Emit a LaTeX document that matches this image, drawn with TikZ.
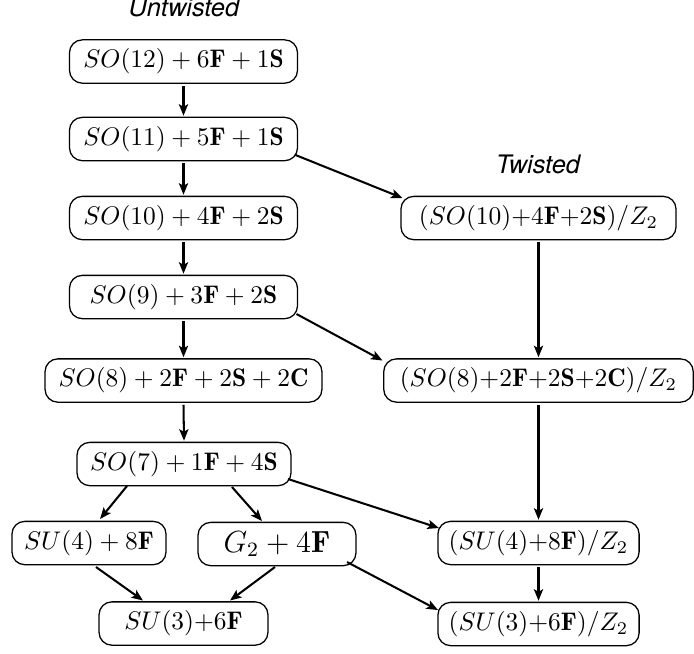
\documentclass[tikz,border=0pt]{standalone}
\usepackage{fontspec}
\newfontfamily\labfont{TeX Gyre Heros}
\usetikzlibrary{arrows.meta,calc}
\begin{document}
\begin{tikzpicture}[x=0.3926pt,y=-0.3926pt,
  box/.style={draw,rounded corners=5pt,minimum height=17pt,line width=0.5pt,inner sep=0pt},
  arr/.style={-{Stealth[length=4.5pt,width=3.6pt,inset=1pt]},line width=0.8pt},
  lab/.style={anchor=base,font=\labfont\itshape}]
\useasboundingbox (0,0) rectangle (694,653);
% labels
\node[lab] (ut) at (184,16) {Untwisted};
\node[lab] (tw) at (538,173) {Twisted};
% untwisted column
\node[box,minimum width=89.5pt] (so12) at (183.5,61.5) {$SO(12)+6\mathbf{F}+1\mathbf{S}$};
\node[box,minimum width=89.5pt] (so11) at (183.5,139) {$SO(11)+5\mathbf{F}+1\mathbf{S}$};
\node[box,minimum width=89.5pt] (so10) at (183.5,218) {$SO(10)+4\mathbf{F}+2\mathbf{S}$};
\node[box,minimum width=89.5pt] (so9) at (183.5,297) {$SO(9)+3\mathbf{F}+2\mathbf{S}$};
\node[box,minimum width=108.7pt] (so8) at (183.5,380.5) {$SO(8)+2\mathbf{F}+2\mathbf{S}+2\mathbf{C}$};
\node[box,minimum width=84pt] (so7) at (184,464) {$SO(7)+1\mathbf{F}+4\mathbf{S}$};
\node[box,minimum width=60.5pt] (su4) at (89,543) {$SU(4)+8\mathbf{F}$};
\node[box,minimum width=62pt,font=\large] (g2) at (277,544) {$G_2+4\mathbf{F}$};
\node[box,minimum width=66.3pt] (su3) at (183.5,623.5) {$SU(3){+}6\mathbf{F}$};
% twisted column
\node[box,minimum width=108pt] (tw10) at (538.5,218) {$(SO(10){+}4\mathbf{F}{+}2\mathbf{S})/Z_2$};
\node[box,minimum width=121.5pt] (tw8) at (538.5,380.5) {$(SO(8){+}2\mathbf{F}{+}2\mathbf{S}{+}2\mathbf{C})/Z_2$};
\node[box,minimum width=79pt] (tsu4) at (538.5,543) {$(SU(4){+}8\mathbf{F})/Z_2$};
\node[box,minimum width=79pt] (tsu3) at (538.5,624) {$(SU(3){+}6\mathbf{F})/Z_2$};
% vertical arrows
\draw[arr] ($(so12.south)+(0,2)$) -- ($(so11.north)+(0,-1)$);
\draw[arr] ($(so11.south)+(0,2)$) -- ($(so10.north)+(0,-1)$);
\draw[arr] ($(so10.south)+(0,2)$) -- ($(so9.north)+(0,-1)$);
\draw[arr] ($(so9.south)+(0,2)$) -- ($(so8.north)+(0,-1)$);
\draw[arr] ($(so8.south)+(0,2)$) -- ($(so7.north)+(0,-1)$);
\draw[arr] ($(tw10.south)+(0,2)$) -- ($(tw8.north)+(0,-1)$);
\draw[arr] ($(tw8.south)+(0,2)$) -- ($(tsu4.north)+(0,-1)$);
\draw[arr] ($(tsu4.south)+(0,2)$) -- ($(tsu3.north)+(0,-1)$);
% diagonal arrows
\draw[arr] ($(so11)+(112,16)$) -- ($(tw10)+(-136,-20)$);
\draw[arr] ($(so9)+(113,17)$) -- ($(tw8)+(-156,-20)$);
\draw[arr] ($(so7)+(104,15)$) -- ($(tsu4)+(-99.5,-15)$);
\draw[arr] ($(so7)+(-57,22)$) -- ($(su4)+(11,-24)$);
\draw[arr] ($(so7)+(48,23)$) -- ($(g2)+(-15,-23)$);
\draw[arr] ($(su4)+(7,24)$) -- ($(su3)+(-40.5,-23)$);
\draw[arr] ($(g2)+(-2,23)$) -- ($(su3)+(46.5,-23)$);
\draw[arr] ($(g2)+(70,18)$) -- ($(tsu3)+(-100.5,-14)$);
\end{tikzpicture}
\end{document}
